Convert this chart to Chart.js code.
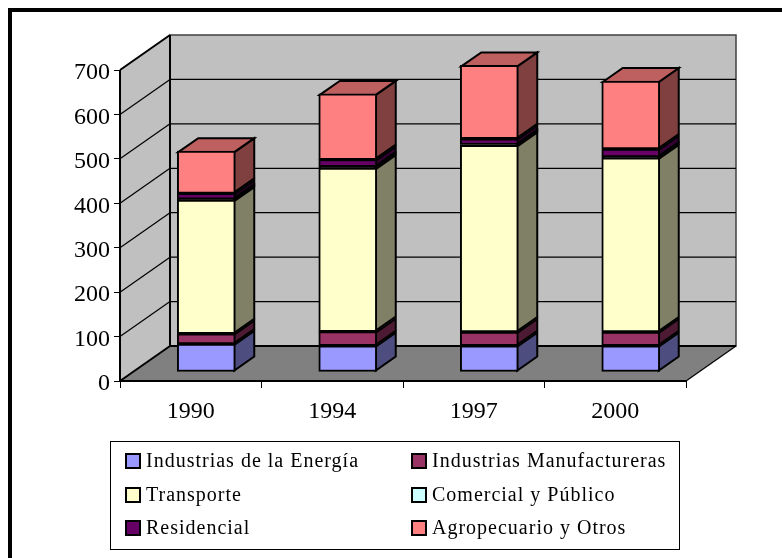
<!DOCTYPE html>
<html>
<head>
<meta charset="utf-8">
<script src="https://cdn.jsdelivr.net/npm/chart.js@4"></script>
<style>
  html, body { margin: 0; padding: 0; background: #fff; }
  #wrap { position: relative; width: 782px; height: 558px; overflow: hidden; }
  #frame { position: absolute; left: 8px; top: 8px; width: 790px; height: 570px; border: 4px solid #000; }
  canvas { position: absolute; left: 0; top: 0; }
  #legend { position: absolute; left: 110px; top: 441px; width: 568px; height: 107px; border: 1px solid #000;
    font: 20px "Liberation Serif", serif; color: #000; letter-spacing: 1px; }
  .item { position: absolute; white-space: nowrap; line-height: 22px; }
  .swatch { position: absolute; left: -21px; top: 4px; width: 12px; height: 12px; border: 2px solid #000; }
</style>
</head>
<body>
<div id="wrap">
  <div id="frame"></div>
  <canvas id="chart" width="782" height="558"></canvas>
  <div id="legend"></div>
</div>
<script>
const years = ['1990', '1994', '1997', '2000'];
const yTicks = [0, 100, 200, 300, 400, 500, 600, 700];

const energia = [63, 59, 59, 59];
const manufactureras = [23, 32, 31, 31];
const transporte = [301, 368, 420, 392];
const comercial = [2, 3, 2, 2];
const residencial = [13, 16, 13, 18];
const agropecuario = [95, 148, 165, 153];

const seriesNames = ['Industrias de la Energía', 'Industrias Manufactureras', 'Transporte',
  'Comercial y Público', 'Residencial', 'Agropecuario y Otros'];
const seriesValues = [energia, manufactureras, transporte, comercial, residencial, agropecuario];
const seriesColors = ['#9999FF', '#993366', '#FFFFCC', '#CCFFFF', '#660066', '#FF8080'];
const sideColors = ['#4D4D80', '#4D1A33', '#808066', '#668080', '#330033', '#804040'];
const topColor = '#BF6060';

// depth of the box and of the bars, in pixels
const wallDx = 50, wallDy = 35;
const barShiftX = 15.5, barShiftY = 9;
const barDx = 20, barDy = 14;

function poly(ctx, pts, fill, stroke, width) {
  ctx.beginPath();
  pts.forEach((p, i) => i ? ctx.lineTo(p[0], p[1]) : ctx.moveTo(p[0], p[1]));
  ctx.closePath();
  if (fill) { ctx.fillStyle = fill; ctx.fill(); }
  if (stroke) { ctx.strokeStyle = stroke; ctx.lineWidth = width; ctx.stroke(); }
}

function line(ctx, x1, y1, x2, y2, color, width) {
  ctx.beginPath();
  ctx.moveTo(x1, y1);
  ctx.lineTo(x2, y2);
  ctx.strokeStyle = color;
  ctx.lineWidth = width;
  ctx.stroke();
}

const box3d = {
  id: 'box3d',
  afterLayout(chart) {
    // y labels sit a little lower than the canvas "middle" baseline puts them
    const yScale = chart.scales.y;
    const drawLabels = yScale.drawLabels;
    yScale.drawLabels = function (area) {
      chart.ctx.save();
      chart.ctx.translate(0, 3);
      drawLabels.call(this, area);
      chart.ctx.restore();
    };
  },
  beforeDatasetsDraw(chart) {
    const ctx = chart.ctx;
    const { left, right, top, bottom } = chart.chartArea;
    ctx.save();
    // back wall, left wall, floor
    poly(ctx, [[left + wallDx, top - wallDy], [right + wallDx, top - wallDy], [right + wallDx, bottom - wallDy], [left + wallDx, bottom - wallDy]], '#C0C0C0', '#404040', 1.5);
    poly(ctx, [[left, top], [left + wallDx, top - wallDy], [left + wallDx, bottom - wallDy], [left, bottom]], '#C0C0C0');
    poly(ctx, [[left, bottom], [left + wallDx, bottom - wallDy], [right + wallDx, bottom - wallDy], [right, bottom]], '#808080');
    // grid lines on both walls
    yTicks.slice(1, -1).forEach(v => {
      const y = chart.scales.y.getPixelForValue(v);
      line(ctx, left, y, left + wallDx, y - wallDy, '#000', 1.2);
      line(ctx, left + wallDx, y - wallDy, right + wallDx, y - wallDy, '#000', 1.2);
    });
    line(ctx, left, top, left + wallDx, top - wallDy, '#000', 2);
    line(ctx, left + wallDx, top - wallDy, left + wallDx, bottom - wallDy, '#000', 2);
    line(ctx, left, bottom, left + wallDx, bottom - wallDy, '#000', 2);
    line(ctx, left + wallDx, bottom - wallDy, right + wallDx, bottom - wallDy, '#000', 2);
    line(ctx, right, bottom, right + wallDx, bottom - wallDy, '#000', 1.2);
    line(ctx, left, top, left, bottom, '#000', 2);
    line(ctx, left, bottom, right, bottom, '#000', 2);
    // sides and tops of the bars
    chart.data.datasets.forEach((ds, d) => {
      chart.getDatasetMeta(d).data.forEach(bar => {
        const x2 = bar.x + bar.width / 2 + barShiftX - 1;
        const yTop = bar.y - barShiftY + 1, yBase = bar.base - barShiftY - 1;
        poly(ctx, [[x2, yTop], [x2 + barDx, yTop - barDy], [x2 + barDx, yBase - barDy], [x2, yBase]], sideColors[d], '#000', 2);
        if (d === chart.data.datasets.length - 1) {
          const x1 = x2 - bar.width + 2;
          poly(ctx, [[x1, yTop], [x1 + barDx, yTop - barDy], [x2 + barDx, yTop - barDy], [x2, yTop]], topColor, '#000', 2);
        }
      });
    });
    ctx.restore();
    // the front faces are the normal bars, moved into the box
    ctx.save();
    ctx.translate(barShiftX, -barShiftY);
  },
  afterDatasetsDraw(chart) {
    chart.ctx.restore();
  }
};

new Chart(document.getElementById('chart'), {
  type: 'bar',
  data: {
    labels: years,
    datasets: seriesNames.map((name, i) => ({
      label: name,
      data: seriesValues[i],
      // Comercial is so thin its band is only border
      backgroundColor: i === 3 ? '#000' : seriesColors[i],
      borderColor: '#000',
      borderWidth: 2,
      borderSkipped: false,
      barThickness: 58
    }))
  },
  options: {
    responsive: false,
    animation: false,
    layout: { padding: { left: 0, right: 96, top: 70, bottom: 0 } },
    plugins: { legend: { display: false }, tooltip: { enabled: false } },
    scales: {
      x: {
        stacked: true,
        afterFit(axis) { axis.height = 177; },
        grid: { drawOnChartArea: false, color: '#000', tickLength: 7, offset: true },
        border: { display: false },
        ticks: { color: '#000', font: { family: 'Liberation Serif', size: 24 }, padding: 9, maxRotation: 0 }
      },
      y: {
        stacked: true,
        min: 0,
        max: 700,
        afterBuildTicks(axis) { axis.ticks = yTicks.map(v => ({ value: v })); },
        afterFit(axis) { axis.width = 120; },
        grid: { drawOnChartArea: false, color: '#000', tickLength: 6 },
        border: { display: false },
        ticks: { color: '#000', font: { family: 'Liberation Serif', size: 24 }, padding: 4 }
      }
    }
  },
  plugins: [box3d]
});

// legend: two columns, three rows
const legend = document.getElementById('legend');
legend.innerHTML = seriesNames.map((name, i) => {
  const left = i % 2 ? 321 : 35;
  const top = 7 + Math.floor(i / 2) * 33.5;
  return `<div class="item" style="left:${left}px;top:${top}px"><span class="swatch" style="background:${seriesColors[i]}"></span>${name}</div>`;
}).join('');
</script>
</body>
</html>
